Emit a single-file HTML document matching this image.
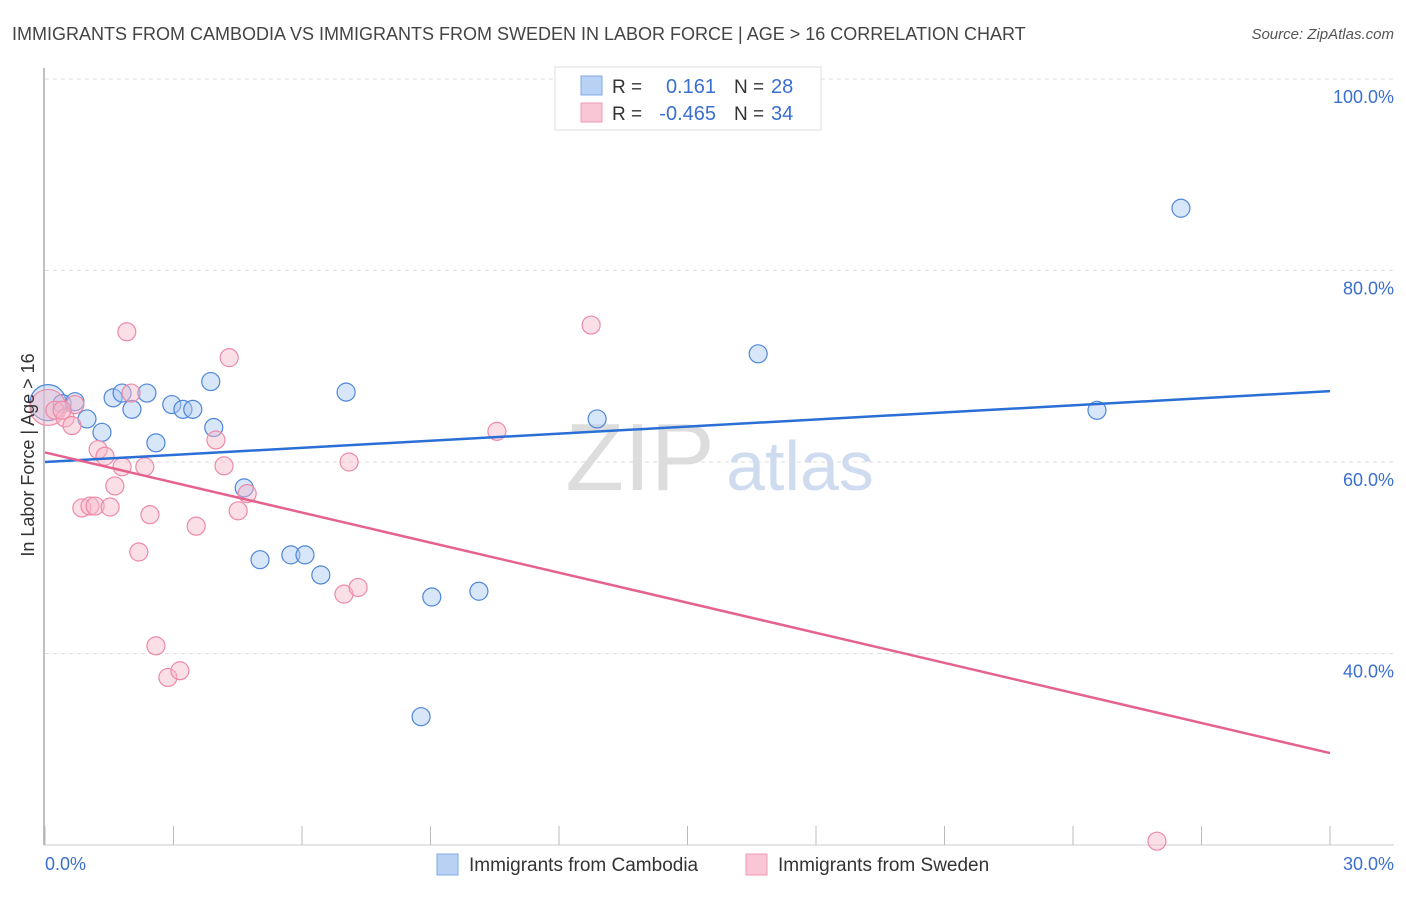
<!DOCTYPE html>
<html><head><meta charset="utf-8"><style>
body{margin:0;background:#fff;font-family:"Liberation Sans",sans-serif}
svg text{font-family:"Liberation Sans",sans-serif}
</style></head><body>
<svg id="chart" width="1406" height="892">
<text x="12" y="40" font-size="18" fill="#444">IMMIGRANTS FROM CAMBODIA VS IMMIGRANTS FROM SWEDEN IN LABOR FORCE | AGE &gt; 16 CORRELATION CHART</text>
<text x="1394" y="39" font-size="15" fill="#555" font-style="italic" text-anchor="end">Source: ZipAtlas.com</text>
<text x="640" y="490" font-size="96" fill="#ddd" font-family="Liberation Serif" text-anchor="middle">ZIP</text>
<text x="800" y="490" font-size="70" fill="#cfdcf0" text-anchor="middle">atlas</text>
<g id="grid"></g><g id="axes"></g><g id="marks"></g>
<text transform="translate(34,455) rotate(-90)" font-size="18" fill="#333" text-anchor="middle">In Labor Force | Age &gt; 16</text>
<text x="45" y="870" font-size="18" fill="#3a6fd0">0.0%</text>
<text x="1394" y="870" font-size="18" fill="#3a6fd0" text-anchor="end">30.0%</text>
<g>
<rect x="555" y="67" width="266" height="63" fill="#fff" stroke="#ddd"/>
<rect x="581" y="76" width="21" height="19" fill="#b8d2f5" stroke="#7fa8e6"/>
<rect x="581" y="103" width="21" height="19" fill="#f9c6d5" stroke="#ef9ab3"/>
<text x="612" y="93" font-size="19" fill="#333">R = </text><text x="716" y="93" font-size="20" fill="#3a6fd0" text-anchor="end">0.161</text>
<text x="734" y="93" font-size="19" fill="#333">N = </text><text x="771" y="93" font-size="20" fill="#3a6fd0">28</text>
<text x="612" y="120" font-size="19" fill="#333">R = </text><text x="716" y="120" font-size="20" fill="#3a6fd0" text-anchor="end">-0.465</text>
<text x="734" y="120" font-size="19" fill="#333">N = </text><text x="771" y="120" font-size="20" fill="#3a6fd0">34</text>
</g>
<g>
<rect x="437" y="854" width="21" height="21" fill="#b8d2f5" stroke="#7fa8e6"/>
<text x="469" y="871" font-size="19" fill="#333">Immigrants from Cambodia</text>
<rect x="746" y="854" width="21" height="21" fill="#f9c6d5" stroke="#ef9ab3"/>
<text x="778" y="871" font-size="19" fill="#333">Immigrants from Sweden</text>
</g>
</svg>
<script>
const yTicks=[40,60,80,100];
const yTickLabels=["40.0%","60.0%","80.0%","100.0%"];
const xTicks=[0,3,6,9,12,15,18,21,24,27,30];
const cambodiaX=[0.07,0.40,0.70,0.98,1.33,1.59,1.80,2.03,2.38,2.59,2.96,3.22,3.45,3.87,3.94,4.65,5.02,5.74,6.07,6.44,7.03,8.78,9.03,10.13,12.89,16.65,24.56,26.52];
const cambodiaY=[66.2,66.1,66.3,64.5,63.1,66.7,67.2,65.5,67.2,62.0,66.0,65.5,65.5,68.4,63.6,57.3,49.8,50.3,50.3,48.2,67.3,33.4,45.9,46.5,64.5,71.3,65.4,86.5];
const swedenX=[0.07,0.23,0.47,0.63,0.70,1.24,1.40,1.63,1.80,1.91,2.01,2.19,2.33,2.45,2.59,2.87,3.15,3.53,3.99,4.18,4.30,4.51,4.72,6.98,7.10,7.31,10.55,12.75,25.96,0.86,1.05,1.17,1.52,0.40];
const swedenY=[65.7,65.4,64.6,63.8,66.0,61.3,60.6,57.5,59.5,73.6,67.2,50.6,59.5,54.5,40.8,37.5,38.2,53.3,62.3,59.6,70.9,54.9,56.7,46.2,60.0,46.9,63.2,74.3,20.4,55.2,55.4,55.4,55.3,65.4];
const cambodiaTrend=[60.0,67.4];
const swedenTrend=[61.0,29.6];
const NS="http://www.w3.org/2000/svg";
const xs=v=>45+v/30*1285;
const ys=v=>79+(100-v)*9.575;
function mk(t,a,p){const e=document.createElementNS(NS,t);for(const k in a)e.setAttribute(k,a[k]);p.appendChild(e);return e;}
const grid=document.getElementById('grid'),axes=document.getElementById('axes'),marks=document.getElementById('marks');
yTicks.forEach((v,i)=>{
 const l=mk('line',{x1:45,x2:1394,y1:ys(v),y2:ys(v),stroke:'#ddd','stroke-dasharray':'4,4'},grid);
 
 
 const t=mk('text',{x:1394,y:ys(v)+24,'font-size':18,fill:'#3a6fd0','text-anchor':'end'},grid);
 t.textContent=yTickLabels[i];
 
 
});
const ax=mk('line',{x1:44,x2:44,y1:68,y2:845,stroke:'#aaa','stroke-width':1.5},axes);


const bx=mk('line',{x1:44,x2:1394,y1:845,y2:845,stroke:'#ccc'},axes);


xTicks.forEach(v=>{
 const t=mk('line',{x1:xs(v),x2:xs(v),y1:826,y2:845,stroke:'#bbb'},axes);
 
 
});
function pts(X,Y,fill,stroke,name){
 X.forEach((x,i)=>{
  const c=mk('circle',{cx:xs(x),cy:ys(Y[i]),r:i===0?18:9,fill:fill,'fill-opacity':0.45,stroke:stroke,'stroke-width':1.2},marks);
  
  
 });
}
pts(cambodiaX,cambodiaY,'#a9c8f2','#4f86d9','point-cambodia');
pts(swedenX,swedenY,'#f7b8ca','#ec8aa8','point-sweden');
const t1=mk('line',{x1:xs(0),y1:ys(cambodiaTrend[0]),x2:xs(30),y2:ys(cambodiaTrend[1]),stroke:'#2a6fd6','stroke-width':2.5},marks);


const t2=mk('line',{x1:xs(0),y1:ys(swedenTrend[0]),x2:xs(30),y2:ys(swedenTrend[1]),stroke:'#e5628f','stroke-width':2.5},marks);


</script>
</body></html>
